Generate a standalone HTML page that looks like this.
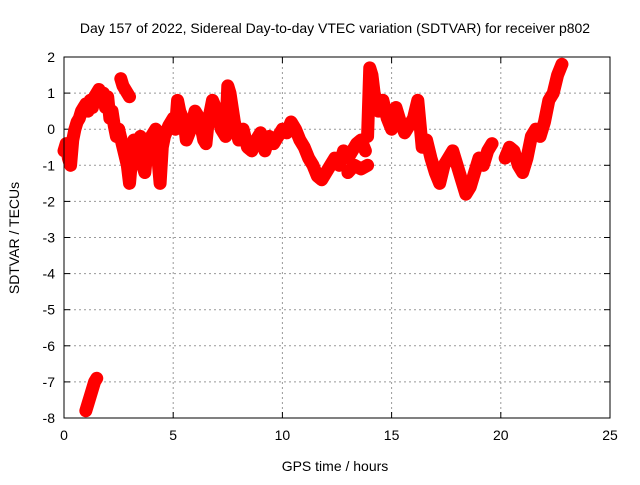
<!DOCTYPE html>
<html><head><meta charset="utf-8"><style>
body{margin:0;background:#fff;width:640px;height:480px;overflow:hidden}
svg{font-family:"Liberation Sans",sans-serif;font-size:14px}
</style></head><body>
<svg id="chart" width="640" height="480" xmlns="http://www.w3.org/2000/svg">
<text x="335" y="33" text-anchor="middle">Day 157 of 2022, Sidereal Day-to-day VTEC variation (SDTVAR) for receiver p802</text>
<text x="335" y="471" text-anchor="middle">GPS time / hours</text>
<text transform="translate(19,238) rotate(-90)" text-anchor="middle">SDTVAR / TECUs</text>
<g id="grid"></g>
<g id="axes"></g>
<g id="marks"></g>
<rect x="64" y="57" width="546" height="361" fill="none" stroke="#000" stroke-width="1"/>
</svg>
<script>
const xTicks=[0,5,10,15,20,25];
const yTicks=[2,1,0,-1,-2,-3,-4,-5,-6,-7,-8];
const seg1T=[0,0.1,0.2,0.3,0.4,0.5,0.6,0.7,0.8,0.9,1.0,1.1,1.2,1.3,1.4,1.5,1.6,1.7,1.8,1.9,2.0,2.1,2.2,2.3,2.4,2.5];
const seg1V=[-0.6,-0.4,-0.8,-1.0,-0.3,0.0,0.2,0.3,0.5,0.6,0.7,0.5,0.8,0.6,0.9,1.0,1.1,0.8,1.0,0.6,0.9,0.3,0.5,0.1,-0.2,0.0];
const seg2T=[2.6,2.7,2.8,2.9,3.0];
const seg2V=[1.4,1.2,1.1,1.0,0.9];
const seg3T=[2.5,2.7,2.9,3.0,3.1,3.2,3.4,3.5,3.6,3.7,3.8,3.9,4.0,4.2,4.3,4.4,4.5,4.6,4.8,5.0,5.1,5.2,5.3,5.5,5.6,5.8,6.0,6.2,6.4,6.5,6.6,6.8,7.0,7.2,7.4,7.5,7.6,7.8,8.0];
const seg3V=[0.0,-0.5,-1.0,-1.5,-0.8,-0.3,-0.5,-0.2,-1.0,-1.2,-0.6,-0.4,-0.2,0.0,-0.8,-1.5,-0.5,-0.2,0.1,0.3,0.0,0.8,0.5,0.2,-0.3,0.0,0.5,0.3,-0.3,-0.4,0.2,0.8,0.5,0.0,-0.2,1.2,1.0,0.2,-0.3];
const seg4T=[8.2,8.4,8.6,8.8,9.0,9.2,9.4,9.6,9.8,10.0,10.2,10.4,10.6,10.8,11.0,11.2,11.4,11.6,11.8,12.0,12.2,12.4,12.6,12.8,13.0,13.2,13.4,13.6,13.8];
const seg4V=[0.0,-0.5,-0.6,-0.3,-0.1,-0.6,-0.2,-0.4,-0.2,0.0,-0.1,0.2,0.0,-0.3,-0.5,-0.8,-1.0,-1.3,-1.4,-1.2,-1.0,-0.8,-1.0,-0.6,-0.8,-0.6,-0.4,-0.3,-0.6];
const seg5T=[13.9,14.0,14.1,14.2,14.4,14.6,14.8,15.0,15.2,15.4,15.6,15.8,16.0,16.2,16.4,16.6,16.8,17.0,17.2,17.4,17.6,17.8,18.0,18.2,18.4,18.6,18.8,19.0,19.2,19.4,19.6];
const seg5V=[-0.2,1.7,1.5,1.0,0.5,0.8,0.3,0.0,0.6,0.2,-0.1,0.1,0.3,0.8,-0.5,-0.3,-0.8,-1.2,-1.5,-1.0,-0.8,-0.6,-1.0,-1.4,-1.8,-1.6,-1.2,-0.8,-1.0,-0.6,-0.4];
const seg6T=[13.0,13.3,13.6,13.9];
const seg6V=[-1.2,-1.0,-1.1,-1.0];
const seg7T=[20.2,20.4,20.6,20.8,21.0,21.2,21.4,21.6,21.8,22.0,22.2,22.4,22.6,22.8];
const seg7V=[-0.8,-0.5,-0.6,-1.0,-1.2,-0.8,-0.2,0.0,-0.2,0.2,0.8,1.0,1.5,1.8];
const seg8T=[1.0,1.1,1.2,1.3,1.4,1.5];
const seg8V=[-7.8,-7.6,-7.4,-7.2,-7.0,-6.9];
const L=64,R=610,T=57,B=418;
const xs=v=>L+(v-0)/(25-0)*(R-L);
const ys=v=>T+(2-v)/(2-(-8))*(B-T);
const NS='http://www.w3.org/2000/svg';
const g=document.getElementById('grid'),ax=document.getElementById('axes'),mk=document.getElementById('marks');
function mkEl(tag,attrs,parent){const e=document.createElementNS(NS,tag);for(const k in attrs)e.setAttribute(k,attrs[k]);parent.appendChild(e);return e;}
xTicks.forEach(t=>{const x=xs(t);
 if(t>0&&t<25){const l=mkEl('line',{x1:x,x2:x,y1:T,y2:B,stroke:'#999','stroke-dasharray':'2,3'},g);}
 const tk=mkEl('line',{x1:x,x2:x,y1:B,y2:B-6,stroke:'#000'},ax);
 const tk2=mkEl('line',{x1:x,x2:x,y1:T,y2:T+6,stroke:'#000'},ax);
 const tx=mkEl('text',{x:x,y:B+22,'text-anchor':'middle'},ax);tx.textContent=t;});
yTicks.forEach(t=>{const y=ys(t);
 if(t<2&&t>-8){const l=mkEl('line',{x1:L,x2:R,y1:y,y2:y,stroke:'#999','stroke-dasharray':'2,3'},g);}
 const tk=mkEl('line',{x1:L,x2:L+6,y1:y,y2:y,stroke:'#000'},ax);
 const tk2=mkEl('line',{x1:R,x2:R-6,y1:y,y2:y,stroke:'#000'},ax);
 const tx=mkEl('text',{x:L-9,y:y+5,'text-anchor':'end'},ax);tx.textContent=t;});
const segs=[[seg1T,seg1V],[seg2T,seg2V],[seg3T,seg3V],[seg4T,seg4V],[seg5T,seg5V],[seg6T,seg6V],[seg7T,seg7V],[seg8T,seg8V]];
segs.forEach(([ts,vs])=>{
 const pts=ts.map((t,i)=>xs(t)+','+ys(vs[i])).join(' ');
 const pl=mkEl('polyline',{points:pts,fill:'none',stroke:'#f00','stroke-width':13,'stroke-linejoin':'round','stroke-linecap':'round'},mk);
 
 
 ts.forEach((t,i)=>{const x=xs(t),y=ys(vs[i]);
  const p=mkEl('path',{d:`M${x-5},${y}H${x+5}M${x},${y-5}V${y+5}`,stroke:'#f00','stroke-width':2},mk);
  
  });
});
</script>
</body></html>
